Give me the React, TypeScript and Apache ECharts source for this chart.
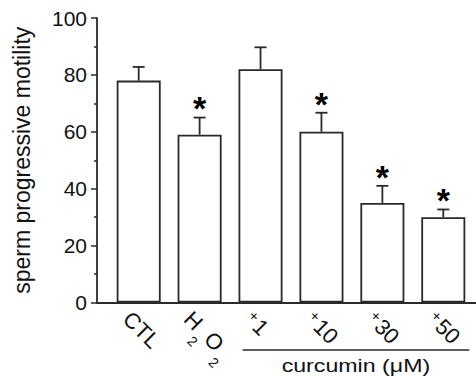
import React, { useEffect, useRef } from 'react';
import * as echarts from 'echarts';

const categories = ['CTL', 'H2O2', '+1', '+10', '+30', '+50'];
const motility = [78, 59, 82, 60, 35, 30];
const errors = [4.8, 6, 7.7, 6.7, 6, 2.7];
const significant = [false, true, false, true, true, true];
const groupLabel = 'curcumin (μM)';
const groupStart = 2;
const groupEnd = 5;
const yTitle = 'sperm progressive motility';

const FONT = '"Liberation Sans", Arial, Helvetica, sans-serif';
const INK = '#2a2a2a';

function richLabel(cat: string): string {
  if (cat === 'H2O2') return '{n|H}{s|2}{n|O}{s|2}';
  if (cat.startsWith('+')) return '{p|+}{n|' + cat.slice(1) + '}';
  return '{n|' + cat + '}';
}

export default function App() {
  const ref = useRef<HTMLDivElement>(null);
  useEffect(() => {
    if (!ref.current) return;
    const chart = echarts.init(ref.current, null, { renderer: 'svg' });
    const barData = motility.map((v, i) => [i, v]);
    const option: any = {
      animation: false,
      grid: { left: 97, right: 0, top: 18, bottom: 73.5 },
      xAxis: {
        type: 'value',
        min: -0.6845,
        max: 5.537,
        axisLine: { show: true, onZero: false, lineStyle: { color: INK, width: 1.8 } },
        axisTick: { show: false },
        axisLabel: { show: false },
        splitLine: { show: false },
      },
      yAxis: {
        type: 'value',
        min: 0,
        max: 100,
        interval: 20,
        name: yTitle,
        nameLocation: 'middle',
        nameGap: 64,
        nameTextStyle: { fontFamily: FONT, fontSize: 23, color: '#111' },
        axisLine: { show: true, onZero: false, lineStyle: { color: INK, width: 1.8 } },
        axisTick: { show: true, length: 6, lineStyle: { color: INK, width: 1.5 } },
        minorTick: { show: true, splitNumber: 2, length: 3, lineStyle: { color: INK, width: 1.5 } },
        axisLabel: { fontFamily: FONT, fontSize: 21, color: '#111', margin: 10 },
        splitLine: { show: false },
      },
      series: [
        {
          type: 'bar',
          data: barData,
          barWidth: 44,
          itemStyle: { color: '#fff', borderColor: INK, borderWidth: 1.8 },
        },
        {
          type: 'custom',
          data: motility.map((v, i) => [i, v, errors[i], significant[i] ? 1 : 0]),
          renderItem: (params: any, api: any) => {
            const x = api.value(0);
            const v = api.value(1);
            const e = api.value(2);
            const sig = api.value(3);
            const base = api.coord([x, v]);
            const top = api.coord([x, v + e]);
            const children: any[] = [
              { type: 'line', shape: { x1: base[0], y1: base[1], x2: top[0], y2: top[1] }, style: { stroke: INK, lineWidth: 1.8 } },
              { type: 'line', shape: { x1: top[0] - 6, y1: top[1], x2: top[0] + 6, y2: top[1] }, style: { stroke: INK, lineWidth: 1.8 } },
            ];
            if (sig) {
              children.push({
                type: 'text',
                x: top[0],
                y: top[1] - 17 + 7.8,
                style: { text: '*', fontFamily: FONT, fontSize: 34, fontWeight: 'bold', fill: '#000', align: 'center', verticalAlign: 'middle' },
              });
            }
            return { type: 'group', children };
          },
          z: 5,
        },
        {
          type: 'custom',
          data: categories.map((c, i) => [i, 0]),
          renderItem: (params: any, api: any) => {
            const p = api.coord([api.value(0), 0]);
            const cat = categories[params.dataIndex];
            return {
              type: 'text',
              x: p[0] - 4,
              y: p[1] + 5,
              rotation: -Math.PI / 4,
              style: {
                text: richLabel(cat),
                align: 'left',
                verticalAlign: 'top',
                fill: '#111',
                fontFamily: FONT,
                rich: {
                  n: { fontFamily: FONT, fontSize: 22, fill: '#111', lineHeight: 33, verticalAlign: 'top' },
                  s: { fontFamily: FONT, fontSize: 14, fill: '#111', lineHeight: 33, verticalAlign: 'bottom', padding: [0, 3, 0, 2] },
                  p: { fontFamily: FONT, fontSize: 15, fill: '#111', lineHeight: 33, verticalAlign: 'top', padding: [0, 2, 0, 0] },
                },
              },
            };
          },
        },
      ],
    };
    chart.setOption(option);
    const xs = chart.convertToPixel({ xAxisIndex: 0 }, groupStart) as number;
    const xe = chart.convertToPixel({ xAxisIndex: 0 }, groupEnd) as number;
    const y0 = chart.convertToPixel({ yAxisIndex: 0 }, 0) as number;
    const x1 = xs - 18;
    const x2 = xe + 26;
    chart.setOption({
      graphic: [
        { type: 'line', shape: { x1, y1: y0 + 47.5, x2, y2: y0 + 47.5 }, style: { stroke: INK, lineWidth: 1.6 } },
        {
          type: 'text',
          x: (x1 + x2) / 2,
          y: y0 + 63,
          scaleX: 1.22,
          style: { text: groupLabel, fontFamily: FONT, fontSize: 19, fill: '#111', align: 'center', verticalAlign: 'middle' },
        },
      ],
    });
    return () => chart.dispose();
  }, []);
  return <div ref={ref} style={{ position: 'absolute', left: 0, top: 0, width: 476, height: 376 }} />;
}
